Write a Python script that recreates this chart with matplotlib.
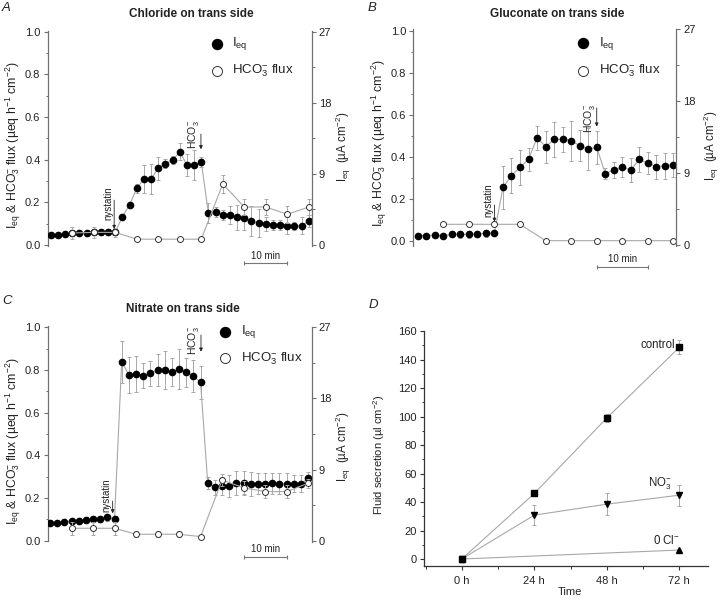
import numpy as np
import matplotlib
matplotlib.use('Agg')
import matplotlib.pyplot as plt
from matplotlib.ticker import MultipleLocator

plt.rcParams['font.family'] = ['Liberation Sans', 'DejaVu Sans']
plt.rcParams['mathtext.fontset'] = 'custom'
plt.rcParams['mathtext.rm'] = 'Liberation Sans'
plt.rcParams['mathtext.it'] = 'Liberation Sans:italic'
plt.rcParams['mathtext.bf'] = 'Liberation Sans:bold'
plt.rcParams['mathtext.default'] = 'regular'

# ---------------- data ----------------
# Panel A: chloride on trans side (sample index, 6 samples = 10 min)
a_ieq = [0.047, 0.048, 0.050, 0.055, 0.058, 0.056, 0.060, 0.059, 0.062, 0.060,
         0.133, 0.188, 0.266, 0.310, 0.310, 0.360, 0.381, 0.398, 0.437, 0.375,
         0.375, 0.389, 0.148, 0.155, 0.141, 0.139, 0.130, 0.125, 0.112, 0.103,
         0.098, 0.095, 0.094, 0.091, 0.088, 0.091, 0.112]
a_ieq_err = [0.008, 0.008, 0.010, 0.010, 0.010, 0.010, 0.012, 0.012, 0.012, 0.012,
             0.010, 0.010, 0.020, 0.065, 0.070, 0.055, 0.020, 0.020, 0.040, 0.050,
             0.070, 0.025, 0.047, 0.025, 0.023, 0.042, 0.058, 0.055, 0.070, 0.067,
             0.034, 0.023, 0.023, 0.039, 0.019, 0.039, 0.028]
a_flux_idx = [3, 6, 9, 12, 15, 18, 21, 24, 27, 30, 33, 36]
a_flux = [0.056, 0.059, 0.059, 0.027, 0.027, 0.027, 0.027, 0.286, 0.178, 0.178, 0.144, 0.178]
a_flux_err = [0.030, 0.025, 0.020, 0, 0, 0, 0, 0.042, 0.039, 0.039, 0.039, 0.039]

# Panel B: gluconate on trans side
b_ieq = [0.024, 0.024, 0.027, 0.024, 0.030, 0.030, 0.030, 0.032, 0.035, 0.038,
         0.254, 0.310, 0.350, 0.388, 0.491, 0.448, 0.483, 0.483, 0.477, 0.453,
         0.437, 0.445, 0.320, 0.336, 0.350, 0.337, 0.388, 0.369, 0.353, 0.358,
         0.362]
b_ieq_err = [0.008, 0.008, 0.010, 0.012, 0.014, 0.015, 0.016, 0.016, 0.016, 0.012,
             0.103, 0.082, 0.083, 0.056, 0.058, 0.076, 0.085, 0.060, 0.095, 0.073,
             0.100, 0.080, 0.026, 0.037, 0.048, 0.056, 0.060, 0.052, 0.057, 0.062,
             0.057]
b_flux_idx = [3, 6, 9, 12, 15, 18, 21, 24, 27, 30]
b_flux = [0.078, 0.078, 0.078, 0.078, 0.0, 0.0, 0.0, 0.0, 0.0, 0.0]

# Panel C: nitrate on trans side
c_ieq = [0.081, 0.084, 0.088, 0.091, 0.094, 0.097, 0.100, 0.102, 0.109, 0.102,
         0.838, 0.777, 0.781, 0.773, 0.784, 0.800, 0.800, 0.789, 0.805, 0.789,
         0.772, 0.742, 0.270, 0.250, 0.256, 0.256, 0.269, 0.269, 0.267, 0.267,
         0.267, 0.269, 0.267, 0.267, 0.267, 0.267, 0.292]
c_ieq_err = [0.008, 0.008, 0.010, 0.012, 0.012, 0.014, 0.014, 0.015, 0.015, 0.015,
             0.100, 0.083, 0.085, 0.059, 0.060, 0.076, 0.087, 0.066, 0.095, 0.067,
             0.074, 0.078, 0.030, 0.035, 0.043, 0.050, 0.056, 0.056, 0.056, 0.050,
             0.050, 0.050, 0.050, 0.050, 0.040, 0.040, 0.030]
c_flux_idx = [3, 6, 9, 12, 15, 18, 21, 24, 27, 30, 33, 36]
c_flux = [0.058, 0.058, 0.058, 0.030, 0.030, 0.030, 0.019, 0.284, 0.248, 0.230, 0.230, 0.269]
c_flux_err = [0.030, 0.030, 0.030, 0.015, 0.015, 0.015, 0.0, 0.030, 0.030, 0.030, 0.030, 0.020]

# Panel D: fluid secretion
d_hours = [0, 24, 48, 72]
d_hour_labels = ['0 h', '24 h', '48 h', '72 h']
d_control = [0, 46.0, 99.0, 148.6]
d_control_err = [0, 1.0, 3.0, 5.0]
d_no3 = [0, 30.8, 38.5, 44.8]
d_no3_err = [0, 7.0, 7.5, 7.5]
d_cl0_hours = [0, 72]
d_cl0 = [0, 6.3]
d_cl0_err = [0, 0.8]

# ---------------- style ----------------
GREY = '#a8a8a8'
SPINE = '#707070'
TXT = '#222222'
FS = 8

fig = plt.figure(figsize=(7.2, 6.05), dpi=100)
W, H = 720.0, 605.0


def ax_at(x0, x1, ytop, ybot):
    return fig.add_axes([x0 / W, 1 - ybot / H, (x1 - x0) / W, (ybot - ytop) / H])


def style_axis(ax, side):
    for s in ['top', 'bottom', 'left', 'right']:
        ax.spines[s].set_visible(s == side)
    ax.spines[side].set_color(SPINE)
    ax.spines[side].set_linewidth(0.9)
    ax.tick_params(axis='y', which='major', direction='out', length=3.2, width=0.8,
                   color=SPINE, labelsize=FS, labelcolor=TXT, pad=2)
    ax.tick_params(axis='y', which='minor', direction='out', length=1.8, width=0.7, color=SPINE)
    ax.set_xticks([])
    ax.patch.set_visible(False)


def trace_panel(ax, ieq, ieq_err, fidx, flux, flux_err, xlim, ylim, ylim_r):
    t = np.arange(len(ieq))
    ax.plot(t, ieq, color=GREY, lw=0.8, zorder=2)
    ax.errorbar(t, ieq, yerr=ieq_err, fmt='none', ecolor=GREY, elinewidth=0.7,
                capsize=1.7, capthick=0.7, zorder=2)
    ax.plot(t, ieq, 'o', color='black', ms=4.5, zorder=3)
    ax.plot(fidx, flux, color=GREY, lw=0.8, zorder=4)
    if flux_err is not None:
        ax.errorbar(fidx, flux, yerr=flux_err, fmt='none', ecolor=GREY, elinewidth=0.7,
                    capsize=1.7, capthick=0.7, zorder=4)
    ax.plot(fidx, flux, 'o', mfc='white', mec='#333333', mew=0.7, ms=4.3, zorder=5)
    ax.set_xlim(*xlim)
    ax.set_ylim(*ylim)
    style_axis(ax, 'left')
    ax.yaxis.set_minor_locator(MultipleLocator(0.1))
    ax.set_yticks([0, 0.2, 0.4, 0.6, 0.8, 1.0])
    ax.set_yticklabels(['0.0', '0.2', '0.4', '0.6', '0.8', '1.0'])
    ax2 = ax.twinx()
    ax2.set_ylim(*ylim_r)
    style_axis(ax2, 'right')
    ax2.set_yticks([0, 9, 18, 27])
    ax2.yaxis.set_minor_locator(MultipleLocator(4.5))
    ax2.tick_params(axis='y', which='both', right=True, left=False, labelright=True, labelleft=False)
    return ax2


def legend_manual(ax, xa, ya1, ya2):
    ax.plot([xa], [ya1], 'o', color='black', ms=7.2, transform=ax.transAxes, clip_on=False, zorder=6)
    ax.plot([xa], [ya2], 'o', mfc='white', mec='#333333', mew=0.7, ms=7.2,
            transform=ax.transAxes, clip_on=False, zorder=6)
    ax.text(xa + 0.06, ya1, 'I$_{eq}$', transform=ax.transAxes, fontsize=9.5,
            va='center', ha='left', color=TXT)
    ax.text(xa + 0.06, ya2, 'HCO$_3^{-}$ flux', transform=ax.transAxes, fontsize=9.5,
            va='center', ha='left', color=TXT)


def annot(ax, x, y_tip, y_start, label, tx, ty, fs):
    ax.annotate('', xy=(x, y_tip), xytext=(x, y_start),
                arrowprops=dict(arrowstyle='-|>', lw=0.6, color='#222222',
                                mutation_scale=5, shrinkA=0, shrinkB=0), zorder=7)
    ax.text(tx, ty, label, rotation=90, fontsize=fs, ha='center', va='center', color=TXT)


def scalebar(ax, x0, x1, y, ty):
    ax.plot([x0, x1], [y, y], color='#777777', lw=0.8, marker='|', ms=3,
            mew=0.8, clip_on=False)
    ax.text((x0 + x1) / 2, ty, '10 min', fontsize=7, ha='center', va='center', color=TXT)


ylab_left = 'I$_{eq}$ & HCO$_3^{-}$ flux (µeq h$^{-1}$ cm$^{-2}$)'
ylab_right = 'I$_{eq}$  (µA cm$^{-2}$)'

# ---------------- Panel A ----------------
axA = ax_at(47.7, 311.7, 31.0, 246.0)
trace_panel(axA, a_ieq, a_ieq_err, a_flux_idx, a_flux, a_flux_err,
            (-0.42, 36.4), (-0.005, 1.004), (-0.13, 27.1))
legend_manual(axA, 0.64, 0.941, 0.814)
annot(axA, 8.85, 0.075, 0.21, 'nystatin', 8.0, 0.195, 7)
annot(axA, 20.95, 0.449, 0.52, 'HCO$_3^{-}$', 19.9, 0.52, 7.5)
scalebar(axA, 27, 33, -0.086, -0.052)

# ---------------- Panel B ----------------
axB = ax_at(413.3, 676.0, 29.3, 245.7)
trace_panel(axB, b_ieq, b_ieq_err, b_flux_idx, b_flux, None,
            (-0.52, 30.3), (-0.024, 1.008), (-0.09, 27.0))
legend_manual(axB, 0.645, 0.935, 0.807)
annot(axB, 9.0, 0.09, 0.17, 'nystatin', 8.25, 0.194, 7)
annot(axB, 21.0, 0.544, 0.633, 'HCO$_3^{-}$', 20.1, 0.585, 7.5)
scalebar(axB, 21, 27, -0.127, -0.088)

# ---------------- Panel C ----------------
axC = ax_at(47.7, 311.7, 326.5, 541.5)
trace_panel(axC, c_ieq, c_ieq_err, c_flux_idx, c_flux, c_flux_err,
            (-0.32, 36.5), (-0.004, 1.004), (-0.1, 27.1))
legend_manual(axC, 0.672, 0.976, 0.852)
annot(axC, 8.74, 0.128, 0.185, 'nystatin', 7.9, 0.215, 7)
annot(axC, 21.06, 0.886, 0.964, 'HCO$_3^{-}$', 20.0, 0.94, 7.5)
scalebar(axC, 27, 33, -0.075, -0.04)

# ---------------- Panel D ----------------
axD = ax_at(424.0, 708.3, 330.7, 565.7)
axD.plot(d_hours, d_control, color=GREY, lw=0.8, zorder=2)
axD.plot(d_hours, d_no3, color=GREY, lw=0.8, zorder=2)
axD.plot(d_cl0_hours, d_cl0, color=GREY, lw=0.8, zorder=2)
for xs, ys, es in [(d_hours, d_control, d_control_err), (d_hours, d_no3, d_no3_err),
                   (d_cl0_hours, d_cl0, d_cl0_err)]:
    axD.errorbar(xs, ys, yerr=es, fmt='none', ecolor=GREY, elinewidth=0.7,
                 capsize=1.7, capthick=0.7, zorder=2)
axD.plot(d_hours, d_control, 's', color='black', ms=3.8, zorder=3)
axD.plot(d_hours, d_no3, 'v', color='black', ms=5, zorder=3)
axD.plot(d_cl0_hours, d_cl0, '^', color='black', ms=5, zorder=3)
axD.set_xlim(-12.5, 81.6)
axD.set_ylim(-4.7, 160.3)
for s in ['top', 'right']:
    axD.spines[s].set_visible(False)
for s in ['left', 'bottom']:
    axD.spines[s].set_color('#333333')
    axD.spines[s].set_linewidth(0.9)
axD.set_xticks(d_hours)
axD.set_xticklabels(d_hour_labels)
axD.xaxis.set_minor_locator(MultipleLocator(12))
axD.set_yticks(np.arange(0, 161, 20))
axD.yaxis.set_minor_locator(MultipleLocator(10))
axD.tick_params(which='major', direction='out', length=3.2, width=0.8, color='#333333',
                labelsize=FS, labelcolor=TXT, pad=2)
axD.tick_params(which='minor', direction='out', length=1.8, width=0.7, color='#333333')
axD.tick_params(axis='x', pad=4)
axD.text(70.5, 150.5, 'control', fontsize=8.3, ha='right', va='center', color=TXT)
axD.text(65.7, 53, 'NO$_3^{-}$', fontsize=8.3, ha='center', va='center', color=TXT)
axD.text(67.8, 12.8, '0 Cl$^{-}$', fontsize=8.3, ha='center', va='center', color=TXT)

# ---------------- figure texts ----------------
def ftext(x, y, s, **kw):
    fig.text(x / W, 1 - y / H, s, **kw)

ftext(191.3, 14, 'Chloride on trans side', fontsize=8.5, fontweight='bold', ha='center', va='center', color=TXT)
ftext(556.7, 14, 'Gluconate on trans side', fontsize=8.5, fontweight='bold', ha='center', va='center', color=TXT)
ftext(183.3, 309.3, 'Nitrate on trans side', fontsize=8.5, fontweight='bold', ha='center', va='center', color=TXT)

ftext(6, 8, 'A', fontsize=9.5, fontstyle='italic', ha='center', va='center', color=TXT)
ftext(372, 8, 'B', fontsize=9.5, fontstyle='italic', ha='center', va='center', color=TXT)
ftext(7, 301, 'C', fontsize=9.5, fontstyle='italic', ha='center', va='center', color=TXT)
ftext(373, 305, 'D', fontsize=9.5, fontstyle='italic', ha='center', va='center', color=TXT)

for (x, y) in [(13, 145), (379, 143), (13, 441.7)]:
    ftext(x, y, ylab_left, fontsize=8.8, rotation=90, ha='center', va='center', color=TXT)
for (x, y) in [(343.3, 146.7), (711.5, 146), (343.3, 446.7)]:
    ftext(x, y, ylab_right, fontsize=8.3, rotation=90, ha='center', va='center', color=TXT)

ftext(379, 455, 'Fluid secretion (µl cm$^{-2}$)', fontsize=8, rotation=90, ha='center', va='center', color=TXT)
ftext(570, 591.7, 'Time', fontsize=8, ha='center', va='center', color=TXT)

fig.savefig('out.png', dpi=100)
